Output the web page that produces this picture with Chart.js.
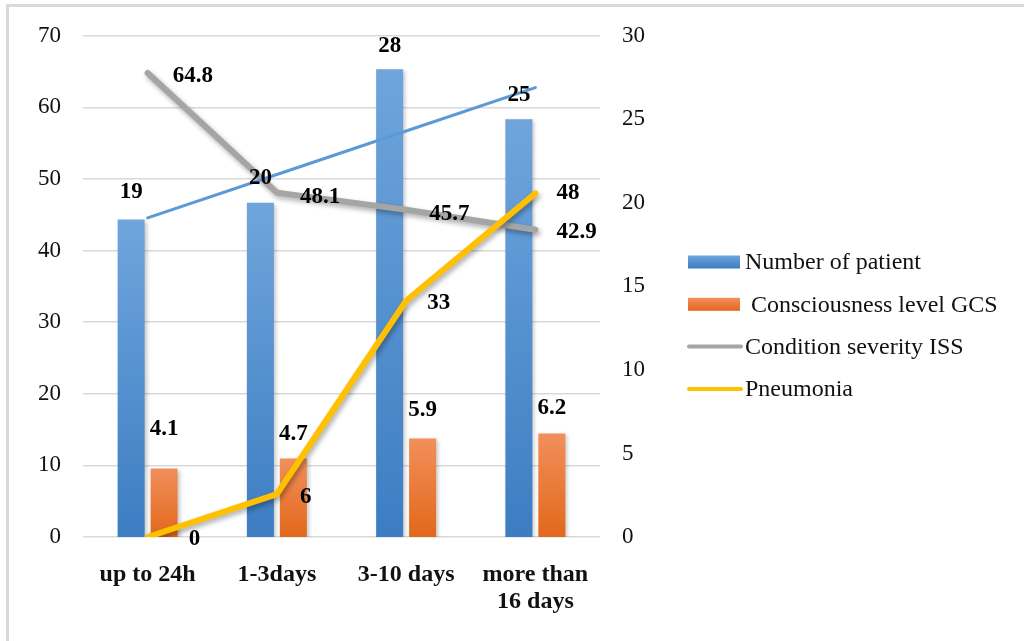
<!DOCTYPE html>
<html>
<head>
<meta charset="utf-8">
<script src="https://cdn.jsdelivr.net/npm/chart.js@4.4.1/dist/chart.umd.min.js"></script>
<style>
  html, body { margin: 0; padding: 0; background: #ffffff; }
  #wrap { width: 1024px; height: 641px; position: relative; }
  canvas { display: block; }
</style>
</head>
<body>
<div id="wrap"><canvas id="chart" width="1024" height="641"></canvas></div>
<script>
// ---- data ----
const categories = [['up to 24h'], ['1-3days'], ['3-10 days'], ['more than', '16 days']];
const patientCount = [19, 20, 28, 25];
const gcsLevel = [4.1, 4.7, 5.9, 6.2];
const issSeverity = [64.8, 48.1, 45.7, 42.9];
const pneumonia = [0, 6, 33, 48];
const patientTrend = [19.1, 21.7, 24.3, 26.9];
const leftTicks = [0, 10, 20, 30, 40, 50, 60, 70];
const rightTicks = [0, 5, 10, 15, 20, 25, 30];

// ---- label placement (pixels) ----
const patientLabelRise = [28, 25, 23, 24];
const gcsLabelRise = [39, 24, 28, 25];
const issLabelDx = [25, 23, 23, 21];
const issLabelDy = [3, 4, 4, 2];
const pneuLabelDx = [41, 23, 21, 21];
const pneuLabelDy = [2, 3, 2, 0];

const SERIF = "'Liberation Serif', 'Times New Roman', serif";
const TEXT = '#111111';

function barFill(topColor, bottomColor) {
  return (ctx) => {
    const chart = ctx.chart;
    const scale = chart.scales && chart.scales.y1;
    if (ctx.type !== 'data' || !scale) return topColor;
    const yTop = scale.getPixelForValue(ctx.raw);
    const yBot = scale.getPixelForValue(0);
    if (!isFinite(yTop) || !isFinite(yBot) || yTop === yBot) return topColor;
    const g = chart.ctx.createLinearGradient(0, yTop, 0, yBot);
    g.addColorStop(0, topColor);
    g.addColorStop(1, bottomColor);
    return g;
  };
}

// white page with a light frame
const framePlugin = {
  id: 'frame',
  beforeDraw(chart) {
    const c = chart.ctx;
    c.save();
    c.fillStyle = '#ffffff';
    c.fillRect(0, 0, chart.width, chart.height);
    c.fillStyle = '#d9d9d9';
    c.fillRect(6, 4, chart.width, 3);
    c.fillRect(6, 4, 3, chart.height);
    c.restore();
  }
};

// soft drop shadow under bars and lines
const shadowPlugin = {
  id: 'shadow',
  beforeDatasetDraw(chart, args) {
    const s = chart.data.datasets[args.index].shadow;
    if (!s) return;
    const c = chart.ctx;
    c.save();
    c.shadowColor = s.color;
    c.shadowBlur = s.blur;
    c.shadowOffsetX = s.x;
    c.shadowOffsetY = s.y;
  },
  afterDatasetDraw(chart, args) {
    if (chart.data.datasets[args.index].shadow) chart.ctx.restore();
  }
};

// value labels beside each mark
const valueLabelPlugin = {
  id: 'valueLabels',
  afterDatasetsDraw(chart) {
    const c = chart.ctx;
    c.save();
    c.font = 'bold 23px ' + SERIF;
    c.fillStyle = '#000000';
    c.textBaseline = 'middle';
    chart.data.datasets.forEach((ds, di) => {
      const cfg = ds.valueLabels;
      if (!cfg) return;
      const meta = chart.getDatasetMeta(di);
      meta.data.forEach((el, i) => {
        const txt = String(ds.data[i]);
        if (cfg.mode === 'bar') {
          c.textAlign = 'center';
          c.fillText(txt, el.x, el.y - cfg.rise[i]);
        } else {
          c.textAlign = 'left';
          c.fillText(txt, el.x + cfg.dx[i], el.y + cfg.dy[i]);
        }
      });
    });
    c.restore();
  }
};

// legend on the right
const legendPlugin = {
  id: 'sideLegend',
  afterDraw(chart) {
    const c = chart.ctx;
    const x0 = 688, boxW = 52, textX = 745, rowStart = 262, rowGap = 42.3;
    c.save();
    c.font = '24px ' + SERIF;
    c.fillStyle = TEXT;
    c.textBaseline = 'middle';
    c.textAlign = 'left';
    chart.data.datasets.filter(d => d.inLegend).forEach((ds, k) => {
      const y = rowStart + k * rowGap;
      if (ds.type === 'bar') {
        const g = c.createLinearGradient(0, y - 6.5, 0, y + 6.5);
        g.addColorStop(0, ds.legendColors[0]);
        g.addColorStop(1, ds.legendColors[1]);
        c.fillStyle = g;
        c.fillRect(x0, y - 6.5, boxW, 13);
      } else {
        c.strokeStyle = ds.borderColor;
        c.lineWidth = 4;
        c.lineCap = 'round';
        c.beginPath();
        c.moveTo(x0 + 1, y);
        c.lineTo(x0 + boxW + 1, y);
        c.stroke();
      }
      c.fillStyle = TEXT;
      c.fillText(ds.label, textX, y + 1);
    });
    c.restore();
  }
};

const lineShadow = { color: 'rgba(0,0,0,0.32)', blur: 5, x: 2, y: 3 };
const barShadow = { color: 'rgba(0,0,0,0.22)', blur: 4, x: 2, y: 2 };

new Chart(document.getElementById('chart'), {
  data: {
    labels: categories,
    datasets: [
      {
        type: 'bar', label: 'Number of patient', data: patientCount, yAxisID: 'y1', order: 4,
        backgroundColor: barFill('#6fa5dc', '#3c7dc2'), legendColors: ['#6fa5dc', '#3c7dc2'],
        categoryPercentage: 0.51, barPercentage: 0.82, inLegend: true, shadow: barShadow,
        valueLabels: { mode: 'bar', rise: patientLabelRise }
      },
      {
        type: 'bar', label: ' Consciousness level GCS', data: gcsLevel, yAxisID: 'y1', order: 5,
        backgroundColor: barFill('#f28f5b', '#e2681b'), legendColors: ['#f28f5b', '#e2681b'],
        categoryPercentage: 0.51, barPercentage: 0.82, inLegend: true, shadow: barShadow,
        valueLabels: { mode: 'bar', rise: gcsLabelRise }
      },
      {
        type: 'line', label: 'Condition severity ISS', data: issSeverity, yAxisID: 'y', order: 3,
        borderColor: '#a5a5a5', borderWidth: 6, pointRadius: 0, tension: 0,
        borderCapStyle: 'round', borderJoinStyle: 'round', inLegend: true, shadow: lineShadow,
        valueLabels: { mode: 'side', dx: issLabelDx, dy: issLabelDy }
      },
      {
        type: 'line', label: 'Pneumonia', data: pneumonia, yAxisID: 'y', order: 2,
        borderColor: '#ffc000', borderWidth: 6, pointRadius: 0, tension: 0,
        borderCapStyle: 'round', borderJoinStyle: 'round', inLegend: true, shadow: lineShadow,
        valueLabels: { mode: 'side', dx: pneuLabelDx, dy: pneuLabelDy }
      },
      {
        type: 'line', label: 'Linear (Number of patient)', data: patientTrend, yAxisID: 'y1', order: 1,
        borderColor: '#5b9bd5', borderWidth: 3, pointRadius: 0, tension: 0,
        borderCapStyle: 'round', inLegend: false
      }
    ]
  },
  options: {
    responsive: false,
    animation: false,
    devicePixelRatio: 1,
    layout: { padding: { left: 0, top: 34, right: 364, bottom: 0 } },
    plugins: { legend: { display: false }, tooltip: { enabled: false } },
    scales: {
      x: {
        grid: { display: false, drawTicks: false },
        border: { display: false },
        ticks: {
          color: TEXT, padding: 24, maxRotation: 0, autoSkip: false,
          font: { family: SERIF, size: 24, weight: 'bold', lineHeight: 1.12 }
        },
        afterFit(s) { s.height = 104; }
      },
      y: {
        position: 'left', min: 0, max: 70,
        grid: { color: '#d9d9d9', lineWidth: 1.5, drawTicks: false },
        border: { display: false },
        ticks: { color: TEXT, padding: 22, font: { family: SERIF, size: 23 } },
        afterBuildTicks(s) { s.ticks = leftTicks.map(v => ({ value: v })); },
        afterFit(s) { s.width = 83; }
      },
      y1: {
        position: 'right', min: 0, max: 30,
        grid: { display: false, drawTicks: false },
        border: { display: false },
        ticks: { color: TEXT, padding: 22, font: { family: SERIF, size: 23 } },
        afterBuildTicks(s) { s.ticks = rightTicks.map(v => ({ value: v })); },
        afterFit(s) { s.width = 60; }
      }
    }
  },
  plugins: [framePlugin, shadowPlugin, valueLabelPlugin, legendPlugin]
});
</script>
</body>
</html>
